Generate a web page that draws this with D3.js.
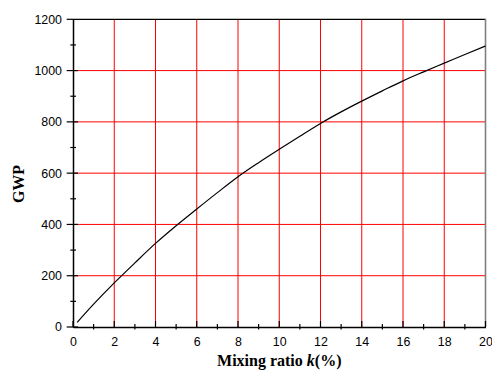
<!DOCTYPE html>
<html>
<head>
<meta charset="utf-8">
<script src="https://cdn.jsdelivr.net/npm/d3@7"></script>
<style>
  html, body { margin: 0; padding: 0; background: #fff; }
  svg { display: block; }
</style>
</head>
<body>
<svg id="chart" width="492" height="375"></svg>
<script>
// Mixing ratio k (%) and the resulting GWP
const mixingRatio = [0.2, 1, 2, 3, 4, 5, 6, 7, 8, 9, 10, 11, 12, 13, 14, 15, 16, 17, 18, 19, 20];
const gwpValues   = [18, 89, 172, 250, 326, 395, 460, 524, 586, 641, 693, 744, 794, 839, 881, 921, 960, 995, 1029, 1063, 1096];

const xTicks = [0, 2, 4, 6, 8, 10, 12, 14, 16, 18, 20];
const xMinorTicks = [1, 3, 5, 7, 9, 11, 13, 15, 17, 19];
const yTicks = [0, 200, 400, 600, 800, 1000, 1200];
const yMinorTicks = [100, 300, 500, 700, 900, 1100];

const svg = d3.select("#chart");
const plotLeft = 73, plotRight = 485.5, plotTop = 19.3, plotBottom = 327;

const x = d3.scaleLinear().domain([0, 20]).range([plotLeft, plotRight]);
const y = d3.scaleLinear().domain([0, 1200]).range([plotBottom, plotTop]);

const tickFont = "'Liberation Sans', Arial, sans-serif";
const titleFont = "'Liberation Serif', 'Times New Roman', serif";

// red grid
const grid = svg.append("g").attr("stroke", "#ff0000").attr("stroke-width", 1);
grid.selectAll("line.v").data(xTicks.filter(d => d > 0 && d < 20)).join("line").attr("class", "v")
  .attr("x1", d => x(d)).attr("x2", d => x(d))
  .attr("y1", plotBottom).attr("y2", plotTop);
grid.selectAll("line.h").data(yTicks.filter(d => d > 0 && d < 1200)).join("line").attr("class", "h")
  .attr("x1", plotLeft).attr("x2", plotRight)
  .attr("y1", d => y(d)).attr("y2", d => y(d));

// frame: top edge and right edge
svg.append("line").attr("x1", plotLeft).attr("x2", plotRight).attr("y1", plotTop).attr("y2", plotTop)
  .attr("stroke", "#000").attr("stroke-width", 1.2);
svg.append("line").attr("x1", plotRight).attr("x2", plotRight).attr("y1", plotTop - 0.6).attr("y2", plotBottom)
  .attr("stroke", "#808080").attr("stroke-width", 1.6);

// x axis
const xAxis = d3.axisBottom(x).tickValues(xTicks).tickSize(0).tickPadding(10)
  .tickFormat(d3.format("d"));
const gx = svg.append("g").attr("transform", `translate(0,${plotBottom})`).call(xAxis);
gx.select(".domain").attr("stroke", "#000").attr("stroke-width", 1.5);
gx.selectAll("text").attr("font-family", tickFont).attr("font-size", "12.4px").attr("fill", "#000");
gx.selectAll("line.major").data(xTicks).join("line").attr("class", "major")
  .attr("x1", d => x(d)).attr("x2", d => x(d)).attr("y1", -6).attr("y2", 0)
  .attr("stroke", "#000").attr("stroke-width", 1.2);
gx.selectAll("line.minor").data(xMinorTicks).join("line").attr("class", "minor")
  .attr("x1", d => x(d)).attr("x2", d => x(d)).attr("y1", -3).attr("y2", 2.5)
  .attr("stroke", "#000").attr("stroke-width", 1.2);

// y axis
const yAxis = d3.axisLeft(y).tickValues(yTicks).tickSize(0).tickPadding(11)
  .tickFormat(d3.format("d"));
const gy = svg.append("g").attr("transform", `translate(${plotLeft},0)`).call(yAxis);
gy.select(".domain").attr("stroke", "#000").attr("stroke-width", 1.5);
gy.selectAll("text").attr("font-family", tickFont).attr("font-size", "12.4px").attr("fill", "#000");
gy.selectAll("line.major").data(yTicks).join("line").attr("class", "major")
  .attr("x1", -6.3).attr("x2", d => d === 1200 ? 0 : 5)
  .attr("y1", d => y(d)).attr("y2", d => y(d))
  .attr("stroke", "#000").attr("stroke-width", 1.2);
gy.selectAll("line.minor").data(yMinorTicks).join("line").attr("class", "minor")
  .attr("x1", -2.7).attr("x2", 3)
  .attr("y1", d => y(d)).attr("y2", d => y(d))
  .attr("stroke", "#000").attr("stroke-width", 1.2);

// GWP curve
const line = d3.line()
  .x((d, i) => x(mixingRatio[i]))
  .y(d => y(d))
  .curve(d3.curveMonotoneX);
svg.append("path").datum(gwpValues)
  .attr("d", line)
  .attr("fill", "none").attr("stroke", "#000").attr("stroke-width", 1.2);

// axis titles
const xt = svg.append("text")
  .attr("x", (plotLeft + plotRight) / 2).attr("y", 366)
  .attr("text-anchor", "middle")
  .attr("font-family", titleFont).attr("font-weight", "bold").attr("font-size", "16px");
xt.append("tspan").text("Mixing ratio ");
xt.append("tspan").attr("font-style", "italic").text("k");
xt.append("tspan").text("(%)");

svg.append("text")
  .attr("transform", `translate(24,184) rotate(-90)`)
  .attr("text-anchor", "middle")
  .attr("font-family", titleFont).attr("font-weight", "bold").attr("font-size", "16px")
  .text("GWP");
</script>
</body>
</html>
